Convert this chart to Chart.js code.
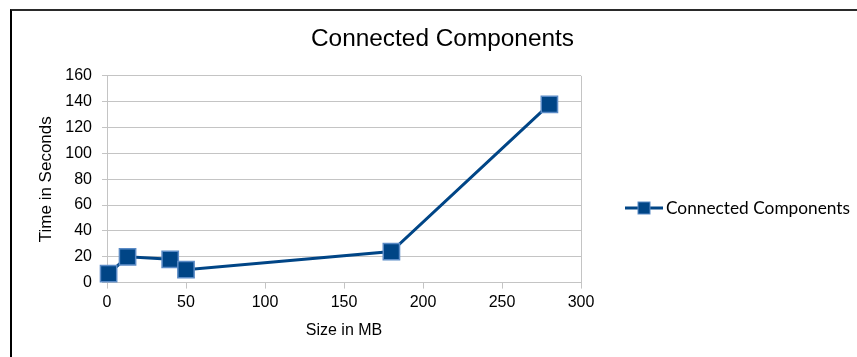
<!DOCTYPE html>
<html>
<head>
<meta charset="utf-8">
<title>Connected Components</title>
<script src="https://cdn.jsdelivr.net/npm/chart.js@4/dist/chart.umd.min.js"></script>
<style>
  html, body { margin: 0; padding: 0; background: #fff; }
  #wrap { position: relative; width: 857px; height: 357px; overflow: hidden; }
  #frame {
    position: absolute; left: 10px; top: 9px; right: -4px; bottom: -4px;
    border-left: 2px solid #000; border-top: 2px solid #2a2a2a;
    pointer-events: none;
  }
  canvas { position: absolute; left: 0; top: 0; }
</style>
</head>
<body>
<div id="wrap">
  <canvas id="chart" width="857" height="357"></canvas>
  <div id="frame"></div>
</div>
<script>
// Dataset: processing time per input size
const seriesName = 'Connected Components';
const sizesMB = [1, 13, 40, 50, 180, 280];
const timesSec = [7, 20, 18, 10, 24, 138];

// Axis ticks
const xTickValues = [0, 50, 100, 150, 200, 250, 300];
const yTickValues = [0, 20, 40, 60, 80, 100, 120, 140, 160];

const LINE_BLUE = '#004586';
const MARKER_EDGE = '#5b8bc6';
const GRID = '#c4c4c4';

// Legend with a line-and-square key; it reserves its own column on the
// right of the plot so the title can still span the whole canvas.
const sideLegend = {
  id: 'sideLegend',
  beforeInit(chart, args, opts) {
    const box = {
      position: 'right',
      weight: 1000,
      fullSize: false,
      options: { position: 'right', weight: 1000, fullSize: false },
      left: 0, top: 0, right: 0, bottom: 0, width: 0, height: 0,
      isHorizontal() { return false; },
      update(maxWidth, maxHeight) { this.width = opts.width; this.height = maxHeight; },
      draw() {}
    };
    chart.$sideLegendBox = box;
    Chart.layouts.addBox(chart, box);
  },
  afterDraw(chart, args, opts) {
    const box = chart.$sideLegendBox;
    const ctx = chart.ctx;
    const x0 = box.left + opts.offsetX, y = opts.y;
    ctx.save();
    ctx.strokeStyle = LINE_BLUE;
    ctx.lineWidth = 3;
    ctx.beginPath();
    ctx.moveTo(x0, y);
    ctx.lineTo(x0 + 38, y);
    ctx.stroke();
    ctx.fillStyle = LINE_BLUE;
    ctx.fillRect(x0 + 13, y - 6, 12, 12);
    ctx.strokeStyle = MARKER_EDGE;
    ctx.lineWidth = 1;
    ctx.strokeRect(x0 + 13, y - 6, 12, 12);
    ctx.fillStyle = '#000';
    ctx.font = opts.font;
    ctx.textBaseline = 'middle';
    ctx.textAlign = 'left';
    ctx.fillText(chart.data.datasets[0].label, x0 + 41, y);
    ctx.restore();
  }
};

const axisFont = { family: '"Liberation Sans", Arial, sans-serif', size: 16 };

new Chart(document.getElementById('chart'), {
  type: 'line',
  data: {
    datasets: [{
      label: seriesName,
      data: sizesMB.map((s, i) => ({ x: s, y: timesSec[i] })),
      borderColor: LINE_BLUE,
      backgroundColor: LINE_BLUE,
      borderWidth: 3,
      pointStyle: 'rect',
      pointRadius: 11.5,
      pointHoverRadius: 11.5,
      pointBackgroundColor: LINE_BLUE,
      pointBorderColor: MARKER_EDGE,
      pointBorderWidth: 1.5,
      tension: 0,
      fill: false,
      clip: false
    }]
  },
  options: {
    responsive: false,
    animation: false,
    devicePixelRatio: 1,
    layout: { padding: { top: 10, left: 28, right: 0, bottom: 17 } },
    plugins: {
      legend: { display: false },
      tooltip: { enabled: false },
      title: {
        display: true,
        text: 'Connected Components',
        color: '#000',
        font: { family: '"Liberation Sans", Arial, sans-serif', size: 24.4, weight: 'normal' },
        padding: { top: 15, bottom: 21.6 }
      },
      sideLegend: {
        width: 276,
        offsetX: 44,
        y: 208,
        font: '17.3px Lato, "Open Sans", sans-serif'
      }
    },
    scales: {
      x: {
        type: 'linear',
        min: 0, max: 300,
        afterBuildTicks: (s) => { s.ticks = xTickValues.map(v => ({ value: v })); },
        border: { display: true, color: GRID, width: 1 },
        grid: {
          drawOnChartArea: true,
          color: (c) => (c.tick && c.tick.value === 300 ? GRID : 'rgba(0,0,0,0)'),
          tickColor: GRID,
          tickLength: 6,
          lineWidth: 1
        },
        ticks: { color: '#000', font: axisFont, padding: 4, maxRotation: 0 },
        title: {
          display: true, text: 'Size in MB', color: '#000',
          font: axisFont, padding: { top: 5, bottom: 0 }
        }
      },
      y: {
        min: 0, max: 160,
        afterBuildTicks: (s) => { s.ticks = yTickValues.map(v => ({ value: v })); },
        afterFit: (s) => { s.width = 79; },
        border: { display: true, color: GRID, width: 1 },
        grid: { color: GRID, tickColor: GRID, tickLength: 5, lineWidth: 1 },
        ticks: { color: '#000', font: axisFont, padding: 10 },
        title: {
          display: true, text: 'Time in Seconds', color: '#000',
          font: { family: '"Liberation Sans", Arial, sans-serif', size: 17 },
          padding: { top: 8, bottom: 8 }
        }
      }
    }
  },
  plugins: [sideLegend]
});
</script>
</body>
</html>
